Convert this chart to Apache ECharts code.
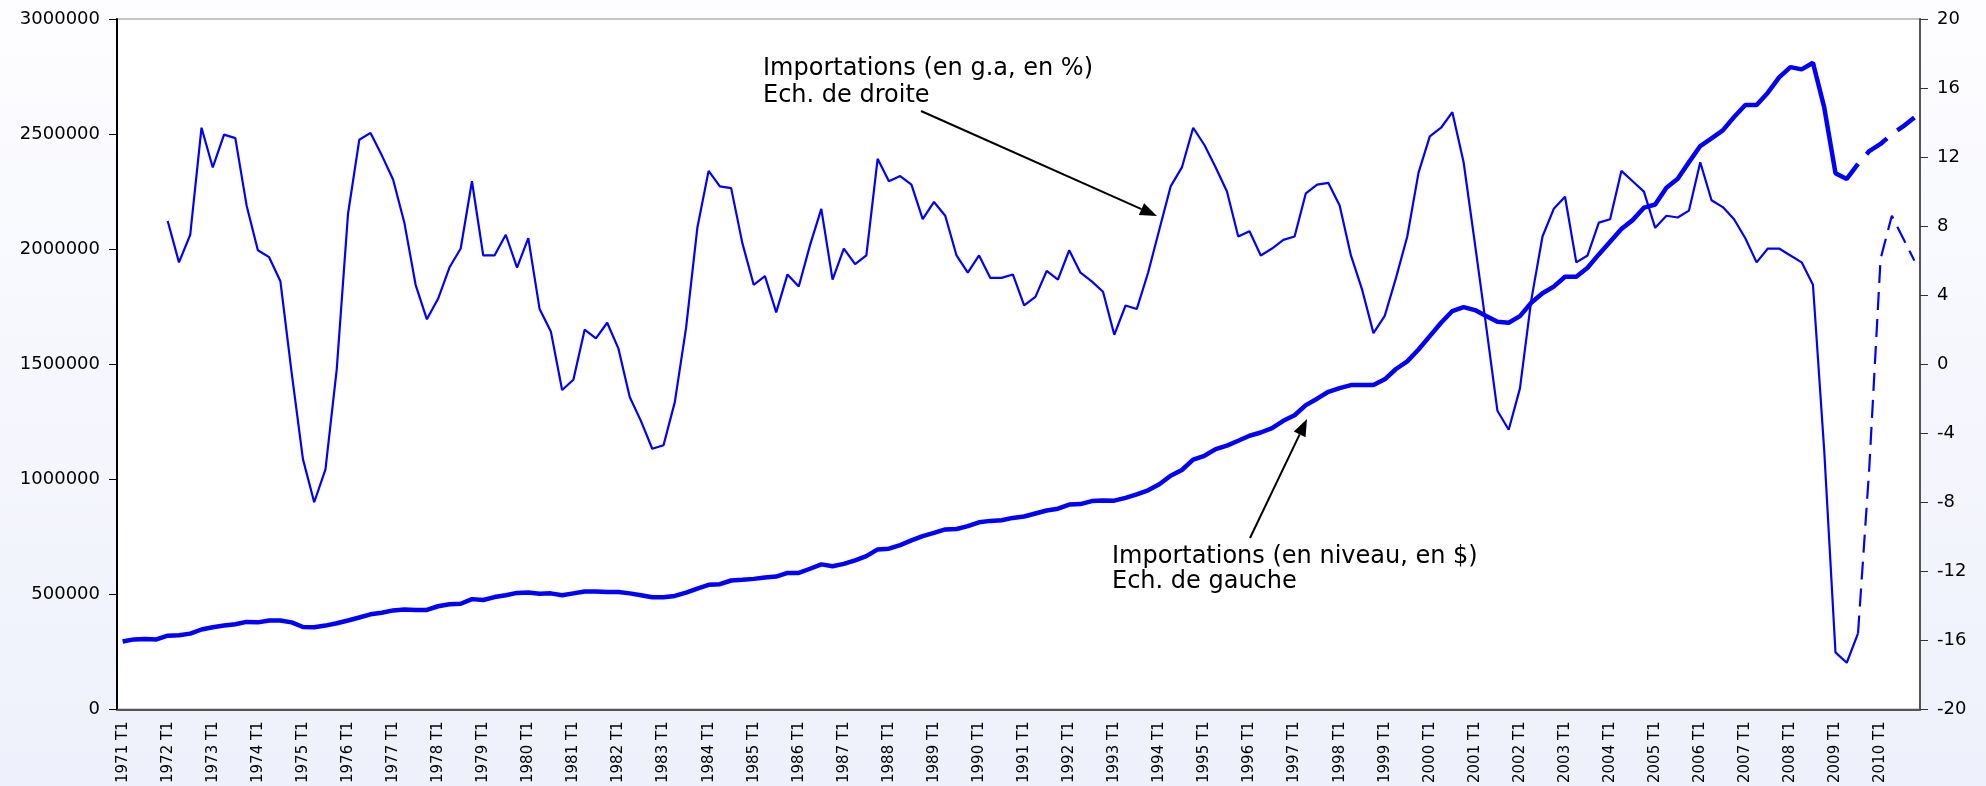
<!DOCTYPE html>
<html>
<head>
<meta charset="utf-8">
<title>Importations</title>
<script src="https://cdn.jsdelivr.net/npm/echarts/dist/echarts.min.js"></script>
<style>
  html, body { margin: 0; padding: 0; }
  #container { width: 1986px; height: 786px; }
</style>
</head>
<body>
<div id="container"></div>
<script type="text/javascript">

// quarters 1971 T1 .. 2010 T4
var firstYear = 1971;
var lastYear = 2010;
var quarterNames = ['T1', 'T2', 'T3', 'T4'];

// Importations en niveau (en $), echelle de gauche
var levelValues = [
  295000, 304000, 306000, 304000, 320000, 322000, 329000, 347000, 357000, 364000,
  370000, 380000, 378000, 386000, 386000, 378000, 358000, 357000, 364000, 374000,
  386000, 399000, 413000, 420000, 430000, 434000, 432000, 432000, 448000, 457000,
  459000, 479000, 475000, 488000, 496000, 506000, 508000, 502000, 504000, 496000,
  504000, 512000, 512000, 510000, 510000, 504000, 496000, 487000, 487000, 493000,
  507000, 525000, 541000, 544000, 560000, 563000, 567000, 573000, 577000, 593000,
  593000, 611000, 630000, 622000, 632000, 647000, 666000, 695000, 698000, 714000,
  734000, 753000, 767000, 782000, 784000, 796000, 813000, 819000, 822000, 832000,
  838000, 851000, 864000, 872000, 890000, 892000, 905000, 908000, 907000, 919000,
  934000, 952000, 978000, 1015000, 1040000, 1085000, 1102000, 1131000, 1146000, 1167000,
  1189000, 1203000, 1222000, 1254000, 1278000, 1322000, 1350000, 1380000, 1396000, 1409000,
  1409000, 1409000, 1434000, 1479000, 1512000, 1564000, 1622000, 1680000, 1731000, 1748000,
  1735000, 1709000, 1684000, 1680000, 1709000, 1767000, 1808000, 1837000, 1880000, 1880000,
  1919000, 1977000, 2032000, 2087000, 2126000, 2180000, 2194000, 2267000, 2306000, 2378000,
  2448000, 2481000, 2516000, 2574000, 2626000, 2626000, 2680000, 2746000, 2791000, 2781000,
  2810000, 2616000, 2330000, 2305000, 2370000, 2426000, 2457000, 2500000, 2533000, 2572000
];

// Importations en glissement annuel (en %), echelle de droite
var growthValues = [
  null, null, null, null, 8.3, 5.9, 7.5, 13.7, 11.4, 13.3,
  13.1, 9.2, 6.6, 6.2, 4.8, -0.5, -5.5, -8.0, -6.1, -0.3,
  8.7, 13.0, 13.4, 12.1, 10.7, 8.2, 4.6, 2.6, 3.8, 5.6,
  6.7, 10.6, 6.3, 6.3, 7.5, 5.6, 7.3, 3.2, 1.9, -1.5,
  -0.9, 2.0, 1.5, 2.4, 0.9, -1.9, -3.3, -4.9, -4.7, -2.2,
  2.1, 7.9, 11.2, 10.3, 10.2, 7.0, 4.6, 5.1, 3.0, 5.2,
  4.5, 6.9, 9.0, 4.9, 6.7, 5.8, 6.3, 11.9, 10.6, 10.9,
  10.4, 8.4, 9.4, 8.6, 6.3, 5.3, 6.3, 5.0, 5.0, 5.2,
  3.4, 3.9, 5.4, 4.9, 6.6, 5.3, 4.8, 4.2, 1.7, 3.4,
  3.2, 5.3, 7.8, 10.3, 11.4, 13.7, 12.7, 11.4, 10.0, 7.4,
  7.7, 6.3, 6.7, 7.2, 7.4, 9.9, 10.4, 10.5, 9.2, 6.3,
  4.3, 1.8, 2.8, 5.0, 7.4, 11.1, 13.2, 13.7, 14.6, 11.7,
  7.0, 2.2, -2.7, -3.8, -1.4, 3.7, 7.4, 9.0, 9.7, 5.9,
  6.3, 8.2, 8.4, 11.2, 10.6, 10.0, 7.9, 8.6, 8.5, 8.9,
  11.7, 9.5, 9.1, 8.4, 7.3, 5.9, 6.7, 6.7, 6.3, 5.9,
  4.6, -5.0, -16.7, -17.3, -15.6, -6.0, 6.1, 8.6, 7.3, 6.0
];

// prevision (pointilles) a partir de 2009 T3
var forecastStart = 154;

var categories = [];
for (var y = firstYear; y <= lastYear; y++) {
  for (var q = 0; q < 4; q++) {
    categories.push(y + ' ' + quarterNames[q]);
  }
}

function part(values, from, to) {
  return values.map(function (v, i) { return (i >= from && i <= to) ? v : null; });
}

function arrow(x1, y1, x2, y2) {
  var dx = x2 - x1, dy = y2 - y1;
  var len = Math.sqrt(dx * dx + dy * dy);
  var ux = dx / len, uy = dy / len;
  var hl = 17, hw = 6.5;
  var bx = x2 - ux * hl, by = y2 - uy * hl;
  return [
    { type: 'line', shape: { x1: x1, y1: y1, x2: bx, y2: by },
      style: { stroke: '#000', lineWidth: 2 }, z: 100 },
    { type: 'polygon', shape: { points: [[x2, y2], [bx - uy * hw, by + ux * hw], [bx + uy * hw, by - ux * hw]] },
      style: { fill: '#000' }, z: 100 }
  ];
}

var dom = document.getElementById('container');
var myChart = echarts.init(dom);

var textFont = '"DejaVu Sans", sans-serif';

var graphics = [
  { type: 'text', left: 763, top: 55, z: 100,
    style: { text: 'Importations (en g.a, en %)\nEch. de droite', font: '24px ' + textFont,
             lineHeight: 27, fill: '#000' } },
  { type: 'text', left: 1112, top: 544, z: 100,
    style: { text: 'Importations (en niveau, en $)\nEch. de gauche', font: '24px ' + textFont,
             lineHeight: 25, fill: '#000' } }
].concat(arrow(921, 111, 1157, 216)).concat(arrow(1250, 538, 1307, 419));

var option = {
  animation: false,
  backgroundColor: {
    type: 'linear', x: 0, y: 0, x2: 0, y2: 1,
    colorStops: [{ offset: 0, color: '#fdfdff' }, { offset: 1, color: '#eef0fb' }]
  },
  grid: {
    left: 117, right: 66, top: 19, bottom: 76,
    show: true, backgroundColor: '#ffffff', borderColor: '#c4c4c4', borderWidth: 2
  },
  xAxis: {
    type: 'category',
    data: categories,
    boundaryGap: true,
    axisLine: { lineStyle: { color: '#555', width: 2 } },
    axisTick: { interval: 3, length: 6, lineStyle: { color: '#333', width: 1 } },
    axisLabel: {
      interval: 3, rotate: 90, margin: 12,
      fontFamily: textFont, fontSize: 15, color: '#000'
    },
    splitLine: { show: false }
  },
  yAxis: [
    {
      type: 'value', min: 0, max: 3000000, interval: 500000, position: 'left',
      axisLine: { show: true, lineStyle: { color: '#000', width: 2 } },
      axisTick: { show: true, length: 8, lineStyle: { color: '#000' } },
      axisLabel: {
        margin: 17, fontFamily: textFont, fontSize: 18, color: '#000',
        formatter: function (v) { return String(v); }
      },
      splitLine: { show: false }
    },
    {
      type: 'value', min: -20, max: 20, interval: 4, position: 'right',
      axisLine: { show: true, lineStyle: { color: '#555', width: 2 } },
      axisTick: { show: true, length: 8, lineStyle: { color: '#333' } },
      axisLabel: { margin: 17, fontFamily: textFont, fontSize: 18, color: '#000' },
      splitLine: { show: false }
    }
  ],
  series: [
    {
      name: 'Importations (en g.a, en %)', type: 'line', yAxisIndex: 1,
      data: part(growthValues, 0, forecastStart),
      symbol: 'none', connectNulls: false,
      lineStyle: { color: '#0000ff', width: 2.2 }
    },
    {
      name: 'Importations (en g.a, en %) prevision', type: 'line', yAxisIndex: 1,
      data: part(growthValues, forecastStart, growthValues.length - 1),
      symbol: 'none',
      lineStyle: { color: '#0000ff', width: 2.2, type: [18, 9] }
    },
    {
      name: 'Importations (en niveau, en $)', type: 'line', yAxisIndex: 0,
      data: part(levelValues, 0, forecastStart),
      symbol: 'none', connectNulls: false,
      lineStyle: { color: '#0000ff', width: 4.5 }
    },
    {
      name: 'Importations (en niveau, en $) prevision', type: 'line', yAxisIndex: 0,
      data: part(levelValues, forecastStart, levelValues.length - 1),
      symbol: 'none',
      lineStyle: { color: '#0000ff', width: 4.5, type: [26, 13], dashOffset: 26 }
    }
  ],
  graphic: graphics
};

myChart.setOption(option);
</script>
</body>
</html>
